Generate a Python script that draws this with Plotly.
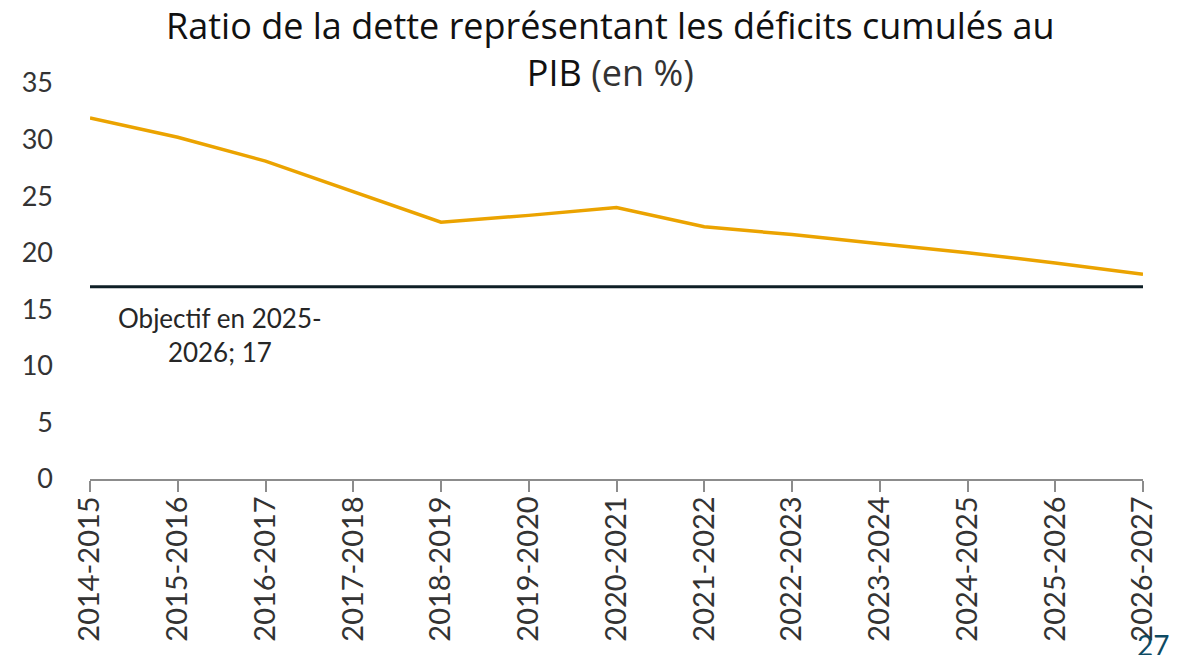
import plotly.graph_objects as go

categories = ["2014-2015", "2015-2016", "2016-2017", "2017-2018", "2018-2019",
              "2019-2020", "2020-2021", "2021-2022", "2022-2023", "2023-2024",
              "2024-2025", "2025-2026", "2026-2027"]
ratio_dette = [31.9, 30.2, 28.1, 25.4, 22.7, 23.3, 24.0, 22.3, 21.6, 20.8, 20.0, 19.1, 18.1]
objectif = 17
y_ticks = [0, 5, 10, 15, 20, 25, 30, 35]

W, H = 1178, 655
L, T = 90, 83
PR, PB = 1143, 479  # plot right / bottom in pixels
pw, ph = PR - L, PB - T

fig = go.Figure()
fig.add_trace(go.Scatter(
    x=categories, y=[objectif] * len(categories), mode="lines",
    line=dict(color="#0e1f26", width=3), hoverinfo="skip", showlegend=False))
fig.add_trace(go.Scatter(
    x=categories, y=ratio_dette, mode="lines",
    line=dict(color="#EBA300", width=3.5), showlegend=False))

fig.add_annotation(
    x=1, y=objectif, xref="x", yref="y", text="Objectif en 2025-<br>2026; 17",
    showarrow=False, xanchor="center", yanchor="top", yshift=-13, xshift=42,
    font=dict(family="Lato", size=26, color="#262626"), align="center")

fig.add_annotation(
    x=(1153 - L) / pw, y=(PB - 626) / ph, xref="paper", yref="paper", text="27",
    showarrow=False, xanchor="center", yanchor="top",
    font=dict(family="Lato", size=28, color="#0e4a63"))

fig.add_annotation(
    x=(610 - L) / pw, y=1 + (T - 49) / ph, xref="paper", yref="paper",
    text="Ratio de la dette représentant les déficits cumulés au<br>PIB <span style='color:#333'>(en %)</span>",
    showarrow=False, xanchor="center", yanchor="middle", align="center",
    font=dict(family="Open Sans", size=36, color="#111"))

fig.update_layout(
    width=W, height=H,
    margin=dict(l=L, r=W - PR, t=T, b=H - PB, pad=0, autoexpand=False),
    paper_bgcolor="white", plot_bgcolor="white",
    xaxis=dict(
        type="category", range=[0, len(categories) - 1], automargin=False,
        showline=True, linecolor="#8c8c8c", linewidth=1.5,
        ticks="outside", tickcolor="#8c8c8c", ticklen=11, tickwidth=1.5,
        tickangle=-90, showgrid=False, zeroline=False, ticklabelstandoff=-7,
        tickfont=dict(family="Lato", size=29, color="#333")),
    yaxis=dict(
        range=[0, 35], tickvals=y_ticks, showgrid=False, zeroline=False,
        automargin=False,
        showline=False, ticks="", ticklabelstandoff=36,
        tickfont=dict(family="Lato", size=27, color="#333")),
)

fig.write_html("out.html", config={"displayModeBar": False},
               post_script="document.body.style.margin='0';document.body.style.overflow='hidden';")
